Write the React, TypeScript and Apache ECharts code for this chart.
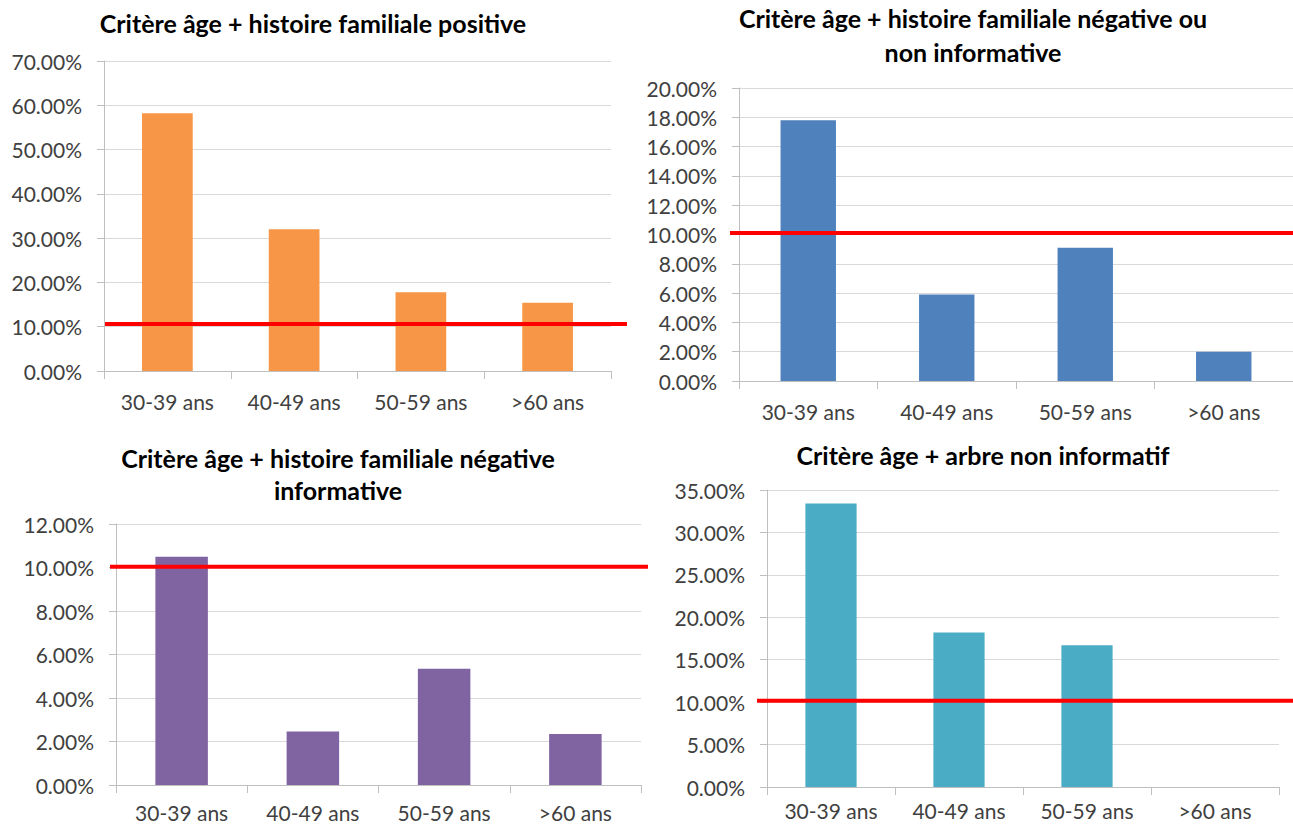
import React, { useEffect, useRef } from "react";
import * as echarts from "echarts";

const categories = ["30-39 ans", "40-49 ans", "50-59 ans", ">60 ans"];

const positiveValues = [58.2, 32.0, 17.8, 15.4];
const negativeOrNonInfValues = [17.8, 5.9, 9.1, 2.0];
const negativeInfValues = [10.5, 2.46, 5.35, 2.34];
const nonInfTreeValues = [33.4, 18.2, 16.7, 0];

const thresholds = [10.6, 10.1, 10.03, 10.15];

const titles = [
  "Critère âge + histoire familiale positive",
  "Critère âge + histoire familiale négative ou\nnon informative",
  "Critère âge + histoire familiale négative\ninformative",
  "Critère âge + arbre non informatif",
];

const yMax = [70, 20, 12, 35];
const yStep = [10, 2, 2, 5];

const FONT = "Lato, 'Open Sans', sans-serif";

export default function App() {
  const ref = useRef<HTMLDivElement>(null);

  useEffect(() => {
    if (!ref.current) return;
    const chart = echarts.init(ref.current, undefined, { renderer: "svg" });

    const seriesValues = [positiveValues, negativeOrNonInfValues, negativeInfValues, nonInfTreeValues];
    const colors = ["#F79646", "#4F81BD", "#8064A2", "#4BACC6"];

    const panels = [
      { left: 104, right: 611, top: 61, bottom: 371, redL: 105, redR: 627, tx: 313, ty: 7, lh: 32, xm: 20 },
      { left: 739, right: 1293, top: 88, bottom: 381, redL: 730, redR: 1293, tx: 973, ty: 1, lh: 34, xm: 20 },
      { left: 116, right: 641, top: 524, bottom: 785, redL: 110, redR: 648, tx: 338, ty: 442, lh: 32, xm: 17 },
      { left: 767, right: 1279, top: 490, bottom: 787, redL: 757, redR: 1293, tx: 983, ty: 439, lh: 32, xm: 13 },
    ];

    const grid: any[] = [];
    const xAxis: any[] = [];
    const yAxis: any[] = [];
    const series: any[] = [];
    const title: any[] = [];

    panels.forEach((p, i) => {
      grid.push({ left: p.left, width: p.right - p.left, top: p.top, height: p.bottom - p.top, containLabel: false });
      xAxis.push({
        type: "category",
        gridIndex: i,
        data: categories,
        axisLine: { show: true, lineStyle: { color: "#BFBFBF", width: 1 } },
        axisTick: { show: true, length: 8, alignWithLabel: false, lineStyle: { color: "#BFBFBF" } },
        axisLabel: { color: "#404040", fontSize: 21, fontFamily: FONT, margin: p.xm },
        splitLine: { show: false },
      });
      yAxis.push({
        type: "value",
        gridIndex: i,
        min: 0,
        max: yMax[i],
        interval: yStep[i],
        axisLine: { show: true, lineStyle: { color: "#BFBFBF", width: 1 } },
        axisTick: { show: true, length: 7, lineStyle: { color: "#BFBFBF" } },
        axisLabel: {
          color: "#404040",
          fontSize: 21,
          fontFamily: FONT,
          margin: 22,
          formatter: (v: number) => v.toFixed(2) + "%",
        },
        splitLine: { show: true, lineStyle: { color: "#D9D9D9", width: 1 } },
      });
      series.push({
        type: "bar",
        xAxisIndex: i,
        yAxisIndex: i,
        data: seriesValues[i],
        barWidth: "40%",
        itemStyle: { color: colors[i] },
        z: 2,
      });
      title.push({
        text: titles[i],
        left: p.tx,
        top: p.ty,
        textAlign: "center",
        padding: 0,
        textStyle: {
          fontFamily: FONT,
          fontWeight: "bold",
          fontSize: 25,
          lineHeight: p.lh,
          color: "#000000",
        },
      });
    });

    panels.forEach((p, i) => {
      const gi = 4 + i;
      grid.push({ left: p.redL, width: p.redR - p.redL, top: p.top, height: p.bottom - p.top, containLabel: false });
      xAxis.push({ type: "category", gridIndex: gi, data: ["a", "b"], boundaryGap: false, show: false });
      yAxis.push({ type: "value", gridIndex: gi, min: 0, max: yMax[i], show: false, splitLine: { show: false } });
      series.push({
        type: "line",
        xAxisIndex: gi,
        yAxisIndex: gi,
        data: [thresholds[i], thresholds[i]],
        symbol: "none",
        lineStyle: { color: "#FF0000", width: 4 },
        z: 5,
        silent: true,
      });
    });

    chart.setOption({
      animation: false,
      backgroundColor: "#FFFFFF",
      title,
      grid,
      xAxis,
      yAxis,
      series,
    });

    return () => chart.dispose();
  }, []);

  return (
    <div
      ref={ref}
      style={{ position: "absolute", left: 0, top: 0, width: 1293, height: 825 }}
    />
  );
}
